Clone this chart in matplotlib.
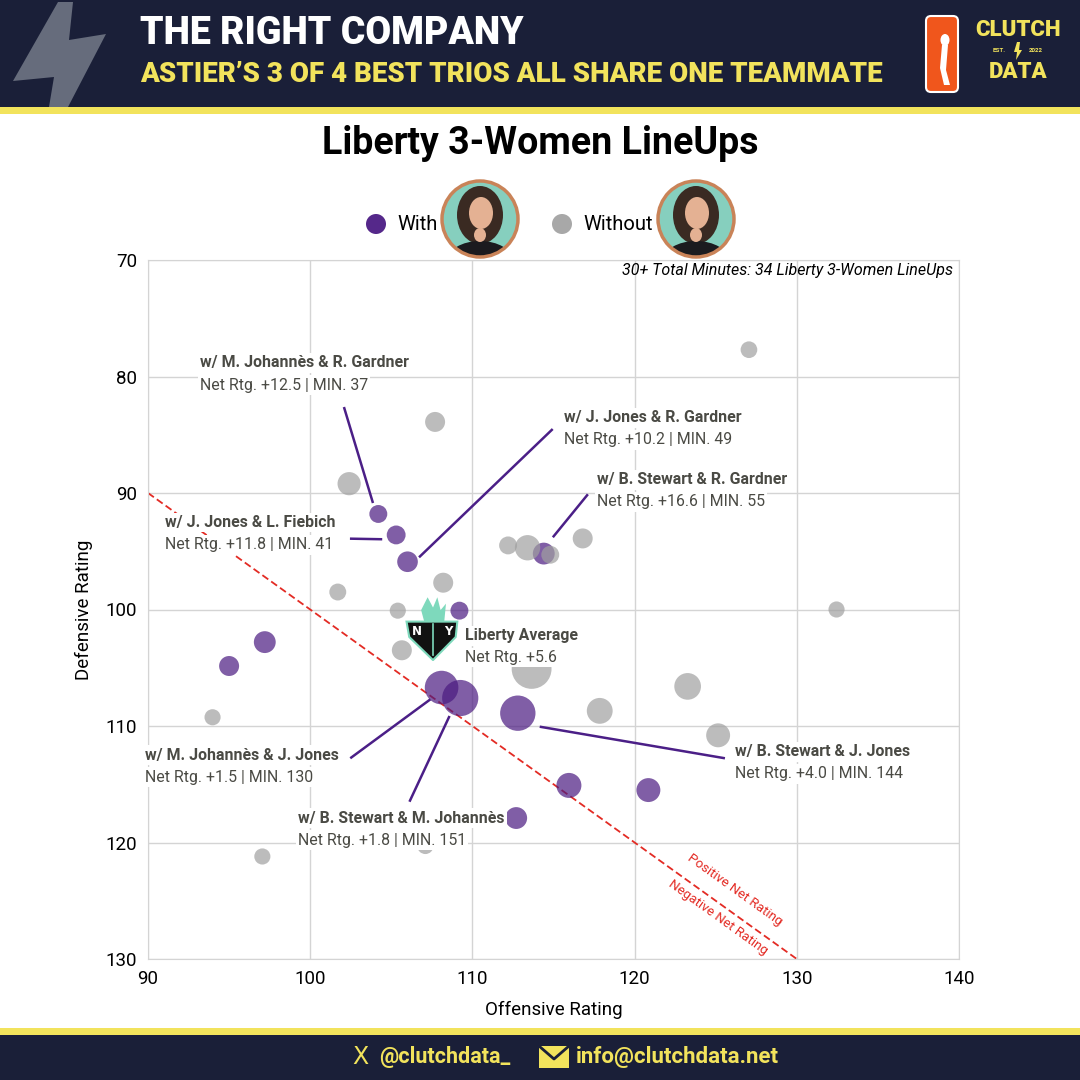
import matplotlib
matplotlib.use("Agg")
import matplotlib.pyplot as plt
from matplotlib.patches import Rectangle, Circle, Ellipse, Polygon, FancyBboxPatch
import numpy as np

# lineups with Astier (purple)
with_off = [104.2, 105.3, 106.0, 114.4, 109.2, 97.2, 95.0, 108.1, 109.25, 112.8, 115.95, 120.85, 112.7]
with_def = [91.8, 93.6, 95.9, 95.2, 100.1, 102.8, 104.85, 106.7, 107.6, 108.9, 115.1, 115.5, 117.9]
with_min = [37, 41, 49, 55, 37, 55, 46, 130, 151, 144, 72, 66, 55]

# lineups without Astier (gray)
without_off = [127.05, 107.7, 102.4, 112.2, 113.4, 114.8, 116.8, 108.2, 101.7, 105.4,
               132.45, 105.65, 113.65, 123.27, 117.85, 125.15, 93.98, 97.05, 107.1]
without_def = [77.7, 83.9, 89.2, 94.5, 94.7, 95.3, 93.9, 97.7, 98.5, 100.1,
               100.0, 103.5, 105.1, 106.6, 108.7, 110.8, 109.25, 121.2, 120.3]
without_min = [32, 46, 62, 37, 74, 37, 46, 46, 33, 30, 30, 46, 183, 82, 77, 66, 30, 30, 30]

liberty_avg = (107.5, 101.7)
liberty_net = 5.6

# highlighted trios: name, net, minutes, point(x,y), label(x,y)
trio_names = ["M. Johannès & R. Gardner", "J. Jones & R. Gardner", "B. Stewart & R. Gardner",
              "J. Jones & L. Fiebich", "M. Johannès & J. Jones", "B. Stewart & M. Johannès",
              "B. Stewart & J. Jones"]
trio_net = [12.5, 10.2, 16.6, 11.8, 1.5, 1.8, 4.0]
trio_min = [37, 49, 55, 41, 130, 151, 144]
trio_pt = [(103.87, 90.86), (106.71, 95.52), (114.96, 93.80), (104.44, 93.97),
           (107.41, 107.71), (108.59, 109.14), (114.15, 110.06)]
trio_line_start = [(102.08, 82.62), (114.95, 84.51), (117.12, 90.11), (102.45, 93.92),
                   (102.47, 112.77), (106.12, 116.50), (125.57, 112.77)]
trio_label = [(93.21, 78.84), (115.65, 83.56), (117.68, 88.88), (91.05, 92.57),
              (89.82, 112.49), (99.25, 117.90), (126.19, 112.23)]

navy = "#1a1f38"
yellow = "#f2e35c"
purple = "#4a1a80"
gray = "#a0a0a0"
txt_col = "#4a4a44"
FONT = "Roboto"
ann_fs = 11.4

fig = plt.figure(figsize=(10.8, 10.8), dpi=100)
bg = fig.add_axes([0, 0, 1, 1], zorder=0)
bg.set_xlim(0, 1080)
bg.set_ylim(1080, 0)
bg.axis("off")

# header
bg.add_patch(Rectangle((0, 0), 1080, 107, fc=navy, ec="none"))
bg.add_patch(Rectangle((0, 107), 1080, 7, fc=yellow, ec="none"))
bolt = [(58, 2), (73, 2), (69, 40), (106, 34), (68, 107), (49, 107), (54, 77), (13, 81)]
bg.add_patch(Polygon(bolt, closed=True, fc="#666c7c", ec="none"))
bg.text(140, 34, "THE RIGHT COMPANY", color="white", fontsize=27, fontweight="black",
        family=FONT, va="center", ha="left")
bg.text(140, 74, "ASTIER’S 3 OF 4 BEST TRIOS ALL SHARE ONE TEAMMATE", color=yellow,
        fontsize=20, fontweight="black", family=FONT, va="center", ha="left")
# logos on the right
bg.add_patch(FancyBboxPatch((926, 16), 32, 76, boxstyle="round,pad=0,rounding_size=5",
                            fc="#f0561c", ec="white", lw=1.5))
bg.add_patch(Ellipse((945, 40), 9, 12, fc="white", ec="none"))
bg.add_patch(Polygon([(942, 45), (948, 45), (946, 70), (950, 85), (944, 85), (940, 68)],
                     fc="white", ec="none"))
bg.text(1018, 30, "CLUTCH", color=yellow, fontsize=16, fontweight="black", family=FONT,
        ha="center", va="center")
bg.text(999, 51, "EST.", color=yellow, fontsize=4.5, fontweight="bold", family=FONT,
        ha="center", va="center")
bg.text(1036, 51, "2022", color=yellow, fontsize=4.5, fontweight="bold", family=FONT,
        ha="center", va="center")
bg.add_patch(Polygon([(1017, 42), (1020, 42), (1019, 50), (1022, 50), (1016, 60), (1017, 52), (1014, 52)],
                     fc=yellow, ec="none"))
bg.text(1018, 72, "DATA", color=yellow, fontsize=16, fontweight="black", family=FONT,
        ha="center", va="center")

# footer
bg.add_patch(Rectangle((0, 1028), 1080, 7, fc=yellow, ec="none"))
bg.add_patch(Rectangle((0, 1035), 1080, 45, fc=navy, ec="none"))
bg.text(352, 1057, "X", color=yellow, fontsize=17, family="DejaVu Sans", ha="left", va="center")
bg.text(379, 1057, "@clutchdata_", color=yellow, fontsize=15.5, fontweight="bold", family=FONT,
        ha="left", va="center")
bg.add_patch(Rectangle((539, 1046), 30, 22, fc=yellow, ec="none"))
bg.plot([539, 554, 569], [1046, 1059, 1046], color=navy, lw=2)
bg.text(576, 1057, "info@clutchdata.net", color=yellow, fontsize=16, fontweight="bold",
        family=FONT, ha="left", va="center")

# chart title
bg.text(540, 143, "Liberty 3-Women LineUps", fontsize=27, fontweight="bold", family=FONT,
        ha="center", va="center", color="black")

# legend
bg.add_patch(Circle((376, 224), 10, fc="#55288a", ec="none"))
bg.text(397, 225, "With", fontsize=14.5, family=FONT, ha="left", va="center")
bg.add_patch(Circle((562, 224), 10, fc="#a8a8a8", ec="none"))
bg.text(583, 225, "Without", fontsize=14.5, family=FONT, ha="left", va="center")


def photo(cx, cy):
    c = Circle((cx, cy), 38, fc="#86cfbe", ec="none")
    bg.add_patch(c)
    parts = [
        Ellipse((cx, cy - 4), 46, 58, fc="#3a2a22", ec="none"),
        Ellipse((cx + 1, cy - 6), 24, 32, fc="#e4b193", ec="none"),
        Ellipse((cx, cy + 42), 66, 40, fc="#1b1b1f", ec="none"),
        Ellipse((cx, cy + 16), 12, 14, fc="#e4b193", ec="none"),
    ]
    for p in parts:
        bg.add_patch(p)
        p.set_clip_path(c)
    bg.add_patch(Circle((cx, cy), 38, fc="none", ec="#c98358", lw=2.5))


photo(480, 219)
photo(696, 219)

# main scatter axes
ax = fig.add_axes([148 / 1080, 1 - 959 / 1080, (959 - 148) / 1080, (959 - 260) / 1080], zorder=2)
ax.set_xlim(90, 140)
ax.set_ylim(130, 70)
ax.set_xticks([90, 100, 110, 120, 130, 140])
ax.set_yticks([70, 80, 90, 100, 110, 120, 130])
ax.grid(True, color="#d4d4d4", lw=1)
ax.set_axisbelow(True)
for s in ax.spines.values():
    s.set_color("#d4d4d4")
ax.tick_params(length=0, labelsize=13.5, pad=8)
for lab in ax.get_xticklabels() + ax.get_yticklabels():
    lab.set_family(FONT)
ax.set_xlabel("Offensive Rating", fontsize=13.5, family=FONT, labelpad=9)
ax.set_ylabel("Defensive Rating", fontsize=13.5, family=FONT, labelpad=9)

size_k = 4.5
ax.scatter(with_off, with_def, s=np.array(with_min) * size_k, c=purple, alpha=0.7,
           edgecolors="none", zorder=3)
ax.scatter(without_off, without_def, s=np.array(without_min) * size_k, c=gray, alpha=0.7,
           edgecolors="none", zorder=3)

# break-even line (net rating 0)
ax.plot([90, 130], [90, 130], color="#e32b24", lw=1.3, ls=(0, (4, 2)), zorder=2)
ax.text(126.2, 124.1, "Positive Net Rating", color="#e32b24", fontsize=9.6, family=FONT,
        rotation=-35.7, rotation_mode="anchor", ha="center", va="center", zorder=2)
ax.text(125.15, 126.4, "Negative Net Rating", color="#e32b24", fontsize=9.6, family=FONT,
        rotation=-35.7, rotation_mode="anchor", ha="center", va="center", zorder=2)

ax.text(139.6, 70.9, "30+ Total Minutes: 34 Liberty 3-Women LineUps", fontsize=11.5,
        style="italic", family=FONT, ha="right", va="center", zorder=6)

box = dict(fc="white", ec="none", pad=1.5)
for name, net, mins, pt, st, lb in zip(trio_names, trio_net, trio_min, trio_pt,
                                         trio_line_start, trio_label):
    ax.plot([st[0], pt[0]], [st[1], pt[1]], color="#4b1f87", lw=1.8, zorder=4,
            solid_capstyle="butt")
    ax.text(lb[0], lb[1], "w/ " + name, fontsize=ann_fs, fontweight="bold", family=FONT,
            color=txt_col, ha="left", va="center", bbox=box, zorder=5, clip_on=False)
    ax.text(lb[0], lb[1] + 1.89, "Net Rtg. +%.1f | MIN. %d" % (net, mins), fontsize=ann_fs,
            family=FONT, color=txt_col, ha="left", va="center", bbox=box, zorder=5,
            clip_on=False)

# Liberty average marker (logo)
lx, ly = liberty_avg
logo = ax.inset_axes([(lx - 1.66 - 90) / 50, (130 - (ly + 2.75)) / 60, 3.33 / 50, 5.5 / 60],
                     transform=ax.transAxes, zorder=6)
logo.set_xlim(0, 1)
logo.set_ylim(0, 1)
logo.axis("off")
logo.patch.set_alpha(0)
logo.add_patch(Polygon([(0.38, 0.55), (0.3, 0.8), (0.42, 1.0), (0.52, 0.84), (0.6, 1.0),
                        (0.66, 0.8), (0.76, 0.9), (0.72, 0.55)], fc="#7ed9bc", ec="none"))
logo.add_patch(Polygon([(0.03, 0.62), (0.97, 0.62), (0.94, 0.38), (0.52, 0.02), (0.08, 0.38)],
                       fc="#111111", ec="#7ed9bc", lw=1.5))
logo.text(0.22, 0.47, "N", color="white", fontsize=8.5, fontweight="bold", ha="center", va="center")
logo.text(0.8, 0.47, "Y", color="white", fontsize=8.5, fontweight="bold", ha="center", va="center")
logo.plot([0.52, 0.52], [0.1, 0.58], color="#7ed9bc", lw=1.2)

ax.text(109.54, 102.27, "Liberty Average", fontsize=ann_fs, fontweight="bold", family=FONT,
        color=txt_col, ha="left", va="center", bbox=box, zorder=5)
ax.text(109.54, 104.1, "Net Rtg. +%.1f" % liberty_net, fontsize=ann_fs, family=FONT,
        color=txt_col, ha="left", va="center", bbox=box, zorder=5)

fig.savefig("out.png", dpi=100, facecolor="white")
